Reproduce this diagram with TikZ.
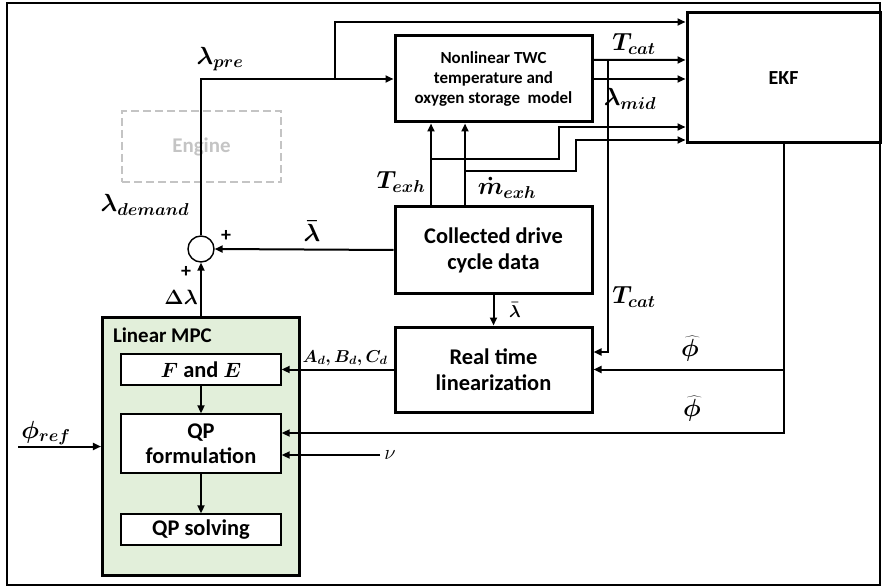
\documentclass[tikz,border=0pt]{standalone}
\usepackage{fontspec}
\setmainfont{Carlito}
\usetikzlibrary{arrows.meta}
\definecolor{mpcgreen}{HTML}{E2EFDA}
\definecolor{enginegray}{HTML}{C4C4C4}
\begin{document}
\begin{tikzpicture}[
  x=1bp,y=-1bp,
  line width=2bp,
  >={Triangle[length=8bp,width=7bp]},
  block/.style={draw, line width=3bp, align=center, minimum width=197bp, minimum height=86bp, font=\fontsize{22.5}{26}\selectfont\bfseries},
  subblock/.style={draw, fill=white, line width=1.4bp, align=center, minimum width=160bp, font=\fontsize{22.5}{25}\selectfont\bfseries\boldmath},
  lbl/.style={inner sep=1bp, font=\fontsize{23}{27}\selectfont\boldmath},
  sign/.style={inner sep=1bp, font=\fontsize{20}{22}\selectfont\bfseries}
]
\useasboundingbox (0,0) rectangle (882,588);
\draw[line width=2bp] (7,3) rectangle (880,585);

\node[block, font=\fontsize{17}{20}\selectfont\bfseries] (twc) at (493.5,79) {Nonlinear TWC\\temperature and\\oxygen storage~ model};
\node[block, minimum width=193bp, minimum height=130bp, font=\fontsize{20}{24}\selectfont\bfseries] (ekf) at (783.5,78) {EKF};
\node[block] (data) at (493.5,250) {Collected drive\\cycle data};
\node[block, minimum height=85bp] (lin) at (493.5,369.5) {Real time\\linearization};
\node[draw=enginegray, dashed, dash pattern=on 8bp off 4bp, line width=2.2bp, minimum width=159bp, minimum height=71bp, text=enginegray, font=\fontsize{21}{24}\selectfont\bfseries] (engine) at (201.5,146.5) {Engine};
\node[circle, draw, line width=1.4bp, minimum size=26bp] (sum) at (201,249) {};

\node[draw, fill=mpcgreen, line width=3bp, minimum width=197bp, minimum height=257bp] (mpc) at (201,446.5) {};
\node[anchor=north west, font=\fontsize{21}{24}\selectfont\bfseries, inner sep=0pt] (mpclabel) at (112,327) {Linear MPC};
\node[subblock, minimum height=31bp] (fe) at (201,369.5) {$F$ and $E$};
\node[subblock, minimum height=59bp] (qpf) at (201,443.5) {QP\\formulation};
\node[subblock, minimum height=31bp] (qps) at (201,529.5) {QP solving};

\coordinate (prebr) at (335,79);
\coordinate (texh) at (431,159);
\coordinate (texhk) at (559,127);
\coordinate (mexh) at (465,171);
\coordinate (mexhk) at (576,140);
\coordinate (tcatbr) at (608,60);
\coordinate (phiin) at (18,446.5);
\coordinate (nuin) at (380,455);

\draw[->] (sum.north) |- (twc.west);
\draw[->] (prebr) |- ([yshift=56bp]ekf.west);
\draw[->] ([yshift=19bp]twc.east) -- ([yshift=18bp]ekf.west);
\draw[->] (twc.east) -- (ekf.west |- twc.east);
\draw[->] (tcatbr) |- ([yshift=17.5bp]lin.east);
\draw[->] ([xshift=-62.5bp]data.north) -- ([xshift=-62.5bp]twc.south);
\draw[->] ([xshift=-28.5bp]data.north) -- ([xshift=-28.5bp]twc.south);
\draw[->] (texh) -| (texhk) -- (ekf.west |- texhk);
\draw[->] (mexh) -| (mexhk) -- (ekf.west |- mexhk);
\draw[->] (data.west) -- (sum.east);
\draw[->] (data.south) -- (lin.north);
\draw[->] (lin.west) -- (fe.east);
\draw[->] (ekf.south |- lin.east) -- (lin.east);
\draw[->] (ekf.south) |- ([yshift=10.5bp]qpf.east);
\draw[->] (nuin) -- (qpf.east |- nuin);
\draw[->] (phiin) -- (mpc.west);
\draw[->] (mpc.north) -- (sum.south);
\draw[->] (fe) -- (qpf);
\draw[->] (qpf) -- (qps);

\node[lbl] at (220,59) {$\lambda_{pre}$};
\node[lbl] at (145,205) {$\lambda_{demand}$};
\node[sign] at (226,236) {+};
\node[sign] at (186,272) {+};
\node[lbl] at (312,231) {$\bar{\lambda}$};
\node[lbl, font=\fontsize{21}{24}\selectfont\boldmath] at (181,297) {$\Delta\lambda$};
\node[lbl] at (401,182) {$T_{exh}$};
\node[lbl] at (507,188) {$\dot{m}_{exh}$};
\node[lbl] at (634,44) {$T_{cat}$};
\node[lbl] at (630,99) {$\lambda_{mid}$};
\node[lbl] at (634,297) {$T_{cat}$};
\node[lbl, font=\fontsize{18}{20}\selectfont\boldmath] at (515,310) {$\bar{\lambda}$};
\node[lbl] at (690,349) {$\widehat{\phi}$};
\node[lbl] at (692,409) {$\widehat{\phi}$};
\node[lbl, font=\fontsize{17}{20}\selectfont\boldmath] at (345,358) {$A_d, B_d, C_d$};
\node[lbl, font=\fontsize{26}{30}\selectfont\boldmath] at (46,433) {$\phi_{ref}$};
\node[anchor=west, font=\fontsize{20}{23}\selectfont] at (nuin) {$\nu$};
\end{tikzpicture}
\end{document}
